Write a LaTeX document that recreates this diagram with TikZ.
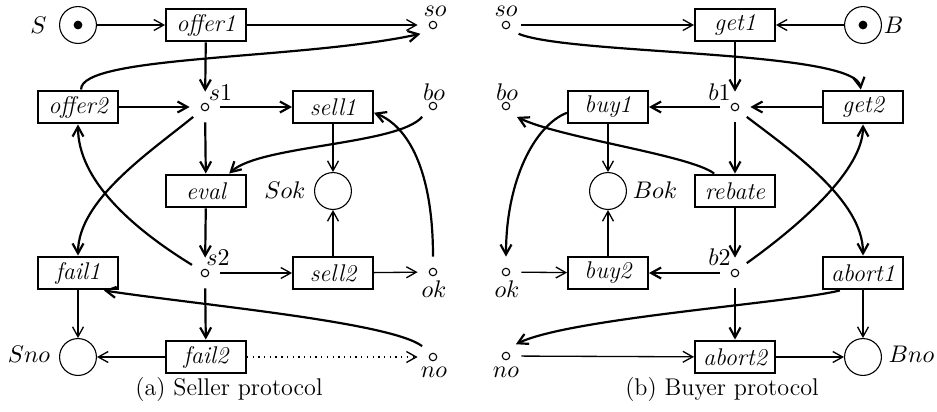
\documentclass[tikz,border=0pt]{standalone}
\usetikzlibrary{arrows.meta}
\begin{document}
\begin{tikzpicture}[x=0.016cm,y=-0.016cm,
  every node/.style={font=\fontsize{11pt}{13pt}\selectfont},
  trans/.style={draw, fill=white, line width=0.9pt, minimum width=36.4pt, minimum height=15pt, inner sep=0pt, font=\fontsize{11pt}{13pt}\selectfont\itshape},
  bigpl/.style={draw, circle, line width=0.5pt, minimum size=16.8pt, inner sep=0pt},
  smpl/.style={circle, minimum size=13.6pt, inner sep=0pt,
     path picture={\draw[line width=0.5pt] (path picture bounding box.center) circle (1.7pt);}},
  tok/.style={fill, circle, minimum size=4pt, inner sep=0pt},
  lbl/.style={anchor=base, inner sep=0pt},
  arc/.style={-{Straight Barb[length=4.5pt,width=5pt]}, line width=0.6pt},
  barc/.style={arc, line width=1pt},
  darc/.style={arc, dotted},
]
\useasboundingbox (0,0) rectangle (937,411);

% ---------------- Seller ----------------
\node[bigpl] (S) at (78,25) {};
\node[tok] (St) at (78,25) {};
\node[lbl] (Sl) at (38.5,33) {$S$};
\node[trans] (offer1) at (206,25) {offer1};
\node[smpl] (so1) at (433,25) {};
\node[lbl] (so1l) at (435,16) {$so$};
\node[trans] (offer2) at (78,107) {offer2};
\node[smpl] (s1) at (205,107) {};
\node[lbl] (s1l) at (220.5,100) {$s1$};
\node[trans] (sell1) at (333,107) {sell1};
\node[smpl] (bo1) at (433,106) {};
\node[lbl] (bo1l) at (434,100) {$bo$};
\node[trans] (eval) at (206,191) {eval};
\node[bigpl] (Sok) at (333,191) {};
\node[lbl] (Sokl) at (285,198) {$Sok$};
\node[trans] (fail1) at (78,273) {fail1};
\node[smpl] (s2) at (205,273) {};
\node[lbl] (s2l) at (218,265) {$s2$};
\node[trans] (sell2) at (333,273) {sell2};
\node[smpl] (ok1) at (433,272) {};
\node[lbl] (ok1l) at (434,297) {$ok$};
\node[bigpl] (Sno) at (78,357) {};
\node[lbl] (Snol) at (29,362) {$Sno$};
\node[trans] (fail2) at (206,357) {fail2};
\node[smpl] (no1) at (433,357) {};
\node[lbl] (no1l) at (434,377) {$no$};
\node[lbl] (capa) at (229,395) {(a) Seller protocol};

\draw[arc] (S) -- (offer1);
\draw[arc] (offer1) -- (so1);
\draw[barc] (offer1) -- (s1);
\draw[barc] (offer2) -- (s1);
\draw[barc] (s1) -- (sell1);
\draw[barc] (s1) -- (eval);
\draw[arc] (sell1) -- (Sok);
\draw[arc] (sell2) -- (Sok);
\draw[barc] (eval) -- (s2);
\draw[arc] (s2) -- (sell2);
\draw[arc] (sell2) -- (ok1);
\draw[barc] (s2) -- (fail2);
\draw[arc] (fail1) -- (Sno);
\draw[arc] (fail2) -- (Sno);
\draw[darc] (fail2) -- (no1);
\draw[barc] (offer2.80) .. controls (80,55) and (300,60) .. (so1.215);
\draw[barc] (s1.-140) .. controls (150,152) and (78,200) .. (fail1.north);
\draw[barc] (s2.148) .. controls (132,228) and (78,180) .. (offer2.south);
\draw[barc] (bo1.-135) .. controls (398,145) and (260,145) .. (eval.37);
\draw[barc] (ok1.90) .. controls (433,170) and (408,126) .. (sell1.-8);
\draw[barc] (no1.135) .. controls (390,322) and (200,305) .. (fail1.-34);

% ---------------- Buyer ----------------
\node[smpl] (so2) at (506,25) {};
\node[lbl] (so2l) at (506,16) {$so$};
\node[trans] (get1) at (735,25) {get1};
\node[bigpl] (B) at (863,25) {};
\node[tok] (Bt) at (863,25) {};
\node[lbl] (Bl) at (893.5,33) {$B$};
\node[smpl] (bo2) at (506,106) {};
\node[lbl] (bo2l) at (507,100) {$bo$};
\node[trans] (buy1) at (608,107) {buy1};
\node[smpl] (b1) at (735,107) {};
\node[lbl] (b1l) at (719.5,100) {$b1$};
\node[trans] (get2) at (863,107) {get2};
\node[bigpl] (Bok) at (608,191) {};
\node[lbl] (Bokl) at (655,198) {$Bok$};
\node[trans] (rebate) at (735,191) {rebate};
\node[smpl] (ok2) at (506,272) {};
\node[lbl] (ok2l) at (507,297) {$ok$};
\node[trans] (buy2) at (608,273) {buy2};
\node[smpl] (b2) at (735,273) {};
\node[lbl] (b2l) at (719.5,265) {$b2$};
\node[trans] (abort1) at (863,273) {abort1};
\node[smpl] (no2) at (506,356) {};
\node[lbl] (no2l) at (506,377) {$no$};
\node[trans] (abort2) at (735,357) {abort2};
\node[bigpl] (Bno) at (863,357) {};
\node[lbl] (Bnol) at (911.5,362) {$Bno$};
\node[lbl] (capb) at (722,395) {(b) Buyer protocol};

\draw[arc] (so2) -- (get1);
\draw[arc] (B) -- (get1);
\draw[barc] (get1) -- (b1);
\draw[barc] (get2) -- (b1);
\draw[barc] (b1) -- (buy1);
\draw[barc] (b1) -- (rebate);
\draw[arc] (buy1) -- (Bok);
\draw[arc] (buy2) -- (Bok);
\draw[barc] (rebate) -- (b2);
\draw[barc] (b2) -- (buy2);
\draw[arc] (ok2) -- (buy2);
\draw[barc] (b2) -- (abort2);
\draw[arc] (abort1) -- (Bno);
\draw[arc] (abort2) -- (Bno);
\draw[arc] (no2) -- (abort2);
\draw[barc] (so2.-35) .. controls (570,55) and (855,50) .. (get2.97);
\draw[barc] (b1.-40) .. controls (790,150) and (863,200) .. (abort1.north);
\draw[barc] (b2.40) .. controls (800,225) and (863,170) .. (get2.south);
\draw[barc] (rebate.140) .. controls (690,155) and (560,138) .. (bo2.-45);
\draw[barc] (buy1.-172) .. controls (535,125) and (506,180) .. (ok2.north);
\draw[barc] (abort1.-143) .. controls (790,303) and (570,318) .. (no2.50);
\end{tikzpicture}
\end{document}
